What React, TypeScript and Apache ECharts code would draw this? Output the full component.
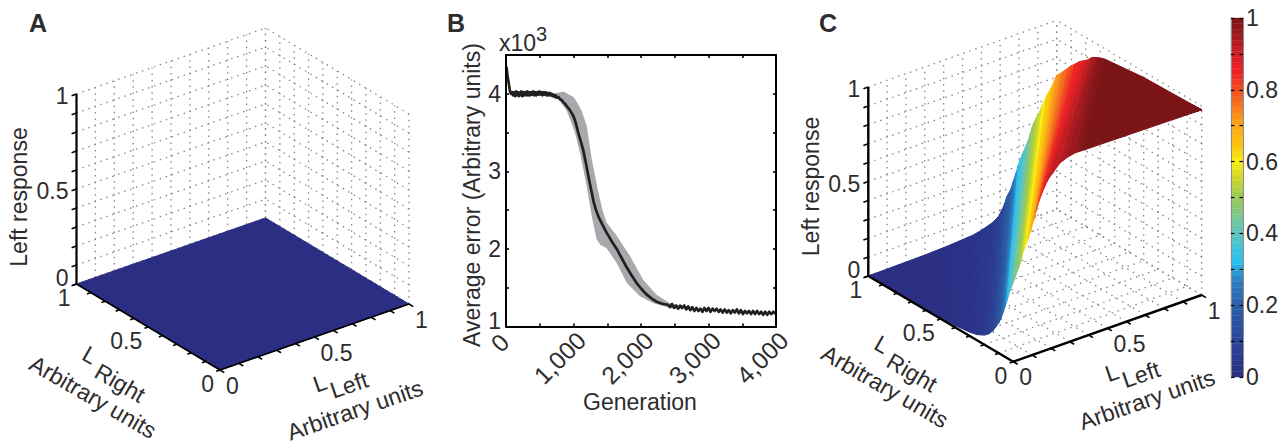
import React, { useEffect, useRef } from "react";
import * as echarts from "echarts";

// ---------- Panel B data ----------
const errorMean = [
  [0,4.35],[10,4.33],[20,4.25],[35,4.17],[50,4.08],[60,4.03],[75,4.0],
  [90,4.02],[105,3.98],[120,4.02],[135,3.97],[150,4.03],[165,3.98],[180,4.02],[195,3.97],[210,4.01],[225,4.03],[240,3.97],[255,4.02],[270,3.98],[285,4.02],[300,3.98],[315,4.03],[330,3.98],[345,4.02],[360,3.98],[375,4.02],[390,3.99],[405,4.03],[420,3.98],[435,4.02],[450,3.98],[465,4.02],[480,3.99],[495,4.03],[510,3.99],[525,4.02],[540,3.98],[555,4.02],[570,3.99],[585,4.02],[600,3.98],[615,4.01],[630,3.98],[645,4.01],[660,3.98],[675,4.0],[690,3.97],[705,3.99],[720,3.96],[735,3.98],[750,3.95],[775,3.96],[800,3.93],[825,3.92],[850,3.89],[875,3.87],[900,3.84],[930,3.81],[960,3.77],[1000,3.71],[1035,3.62],[1070,3.5],[1110,3.38],[1145,3.27],[1185,3.1],[1220,2.94],[1260,2.77],[1295,2.62],[1330,2.51],[1368,2.42],[1430,2.31],[1490,2.21],[1565,2.1],[1640,2.0],[1715,1.88],[1790,1.76],[1860,1.66],[1935,1.56],[2010,1.48],[2085,1.41],[2160,1.36],[2230,1.32],[2330,1.29],
  [2400,1.28],[2430,1.25],[2460,1.29],[2490,1.24],[2520,1.27],[2550,1.23],[2580,1.27],[2610,1.24],[2640,1.27],[2670,1.22],[2700,1.26],[2730,1.21],[2760,1.25],[2790,1.2],[2820,1.24],[2850,1.2],[2880,1.23],[2910,1.19],[2940,1.24],[2970,1.2],[3000,1.24],[3030,1.19],[3060,1.23],[3090,1.2],[3120,1.23],[3150,1.19],[3180,1.22],[3210,1.18],[3240,1.22],[3270,1.18],[3300,1.21],[3330,1.17],[3360,1.21],[3390,1.18],[3420,1.22],[3450,1.17],[3480,1.21],[3510,1.16],[3540,1.2],[3570,1.17],[3600,1.2],[3630,1.16],[3660,1.2],[3690,1.16],[3720,1.2],[3750,1.16],[3780,1.19],[3810,1.15],[3840,1.19],[3870,1.15],[3900,1.19],[3930,1.16],[3960,1.19],[4000,1.16],
];
const errorUpper = [
  [700,4.0],[850,4.03],[1000,3.96],[1060,3.88],[1120,3.78],[1195,3.59],[1270,3.16],[1368,2.73],[1430,2.5],[1490,2.34],[1640,2.17],[1837,1.91],[2035,1.6],[2230,1.41],[2430,1.3],[2630,1.26],
];
const errorLower = [
  [700,3.98],[750,3.96],[900,3.78],[1022,3.5],[1096,3.24],[1195,2.81],[1270,2.42],[1343,2.12],[1400,2.05],[1490,2.01],[1640,1.82],[1790,1.56],[1985,1.39],[2183,1.3],[2430,1.24],[2630,1.22],
];
const generationTicks = [[1000, "1,000"], [2000, "2,000"], [3000, "3,000"], [4000, "4,000"]] as [number, string][];

// ---------- Panels A and C data ----------
const minorTicks = [0, 0.1, 0.2, 0.3, 0.4, 0.5, 0.6, 0.7, 0.8, 0.9, 1];
const tickLabels3d = [["0", 0], ["0.5", 0.5], ["1", 1]] as [string, number][];
// Panel A: flat response at the four corners of the (LLeft, LRight) square
const flatCorners = [[0, 0, 0], [1, 0, 0], [1, 1, 0], [0, 1, 0]];
// Panel C: colour bands of the response surface.
const bandColor =  [0,0.005,0.01,0.02,0.03,0.05,0.07,0.1,0.13,0.16,0.19,0.23,0.27,0.3,0.33,0.36,0.39,0.42,0.45,0.49,0.52,0.55,0.58,0.62,0.66,0.71,0.73,0.75,0.78,0.8,0.83,0.86,0.88,0.9,0.93,0.95,0.97,0.985,1,1,1];
// where each band line meets the front edges (negative: on LLeft=0 at LRight=-s; positive: on LRight=0 at LLeft=s)
const bandFront =  [-1,-0.5,-0.4,-0.3,-0.25,-0.2,-0.17,-0.14,-0.12,-0.1,-0.085,-0.07,-0.055,-0.045,-0.035,-0.025,-0.012,0,0.012,0.03,0.04,0.048,0.06,0.078,0.092,0.108,0.114,0.12,0.13,0.136,0.148,0.163,0.176,0.19,0.248,0.285,0.327,0.35,0.37,0.6,1];
const bandFrontZ = [0,0.005,0.01,0.02,0.03,0.05,0.07,0.1,0.13,0.16,0.19,0.23,0.27,0.3,0.33,0.36,0.39,0.42,0.45,0.49,0.52,0.55,0.58,0.62,0.66,0.71,0.73,0.75,0.78,0.8,0.83,0.86,0.885,0.905,0.964,0.98,0.989,0.989,0.988,0.985,0.98];
// where each band line meets the back edges (<=1: on LRight=1 at LLeft=t; >1: on LLeft=1 at LRight=2-t)
const bandBack =   [0,0.3,0.42,0.555,0.6,0.66,0.69,0.71,0.725,0.735,0.755,0.77,0.785,0.795,0.805,0.82,0.835,0.85,0.86,0.873,0.89,0.91,0.925,0.947,0.975,1,1.025,1.045,1.075,1.095,1.125,1.16,1.185,1.21,1.245,1.262,1.28,1.305,1.33,1.6,2];
const bandBackZ =  [0,0.005,0.01,0.02,0.03,0.05,0.07,0.1,0.13,0.16,0.19,0.23,0.27,0.3,0.33,0.36,0.39,0.42,0.45,0.49,0.52,0.55,0.58,0.62,0.66,0.71,0.73,0.75,0.78,0.8,0.825,0.855,0.87,0.885,0.915,0.922,0.93,0.938,0.945,0.97,0.98];
const colorStops: [number, string][] = [
  [0,"#2b2e83"],[0.1,"#2b4496"],[0.2,"#2b5fa8"],[0.27,"#2f80c2"],[0.32,"#29c0ef"],[0.4,"#5fc5c0"],[0.5,"#9ac95a"],[0.55,"#c8d62e"],[0.6,"#f7ec13"],[0.65,"#fdc010"],[0.7,"#fbaa19"],[0.8,"#f04e23"],[0.85,"#ed2224"],[0.9,"#d21f26"],[0.95,"#a01a20"],[1,"#7b1416"],
];
const colorbarLevels = 64;

const INK = "#2e2c2d";
const FONT = '23px "Liberation Sans", Arial, sans-serif';
const FONT_B = '24.5px "Liberation Sans", Arial, sans-serif';
const BOLD = 'bold 25px "Liberation Sans", Arial, sans-serif';

type V3 = number[];
type View = { o: number[]; ex: number[]; ey: number[]; ez: number[] };
const viewA: View = { o: [220, 370], ex: [189, -66], ey: [-143.5, -86], ez: [0, -190] };
const viewC: View = { o: [1013.3, 361.7], ex: [188.4, -66.7], ey: [-145, -85.7], ez: [0, -189] };
const proj = (v: View, p: V3) => [
  v.o[0] + v.ex[0] * p[0] + v.ey[0] * p[1] + v.ez[0] * p[2],
  v.o[1] + v.ex[1] * p[0] + v.ey[1] * p[1] + v.ez[1] * p[2],
];

function hex(c: string) {
  return [1, 3, 5].map((i) => parseInt(c.slice(i, i + 2), 16));
}
function colorAt(z: number) {
  for (let i = 1; i < colorStops.length; i++) {
    if (z <= colorStops[i][0]) {
      const [a, ca] = colorStops[i - 1];
      const [b, cb] = colorStops[i];
      const f = (z - a) / (b - a);
      const x = hex(ca), y = hex(cb);
      return `rgb(${x.map((q, k) => Math.round(q + (y[k] - q) * f)).join(",")})`;
    }
  }
  return colorStops[colorStops.length - 1][1];
}

function bandPoint(i: number, f: number): V3 {
  const s = bandFront[i], t = bandBack[i];
  const a = s < 0 ? [0, -s] : [s, 0];
  const b = t <= 1 ? [t, 1] : [1, 2 - t];
  return [a[0] + (b[0] - a[0]) * f, a[1] + (b[1] - a[1]) * f, bandFrontZ[i] + (bandBackZ[i] - bandFrontZ[i]) * f];
}

function surfaceCells(v: View) {
  // painter's order along the viewing direction
  const r = [v.ex[0], v.ey[0], v.ez[0]], u = [-v.ex[1], -v.ey[1], -v.ez[1]];
  const n = [r[1] * u[2] - r[2] * u[1], r[2] * u[0] - r[0] * u[2], r[0] * u[1] - r[1] * u[0]];
  const cells: { pts: V3[]; z: number; d: number }[] = [];
  const segs = 24;
  for (let i = 0; i + 1 < bandColor.length; i++) {
    for (let j = 0; j < segs; j++) {
      const pts = [bandPoint(i, j / segs), bandPoint(i, (j + 1) / segs), bandPoint(i + 1, (j + 1) / segs), bandPoint(i + 1, j / segs)];
      const c = [0, 1, 2].map((k) => pts.reduce((acc, p) => acc + p[k], 0) / 4);
      cells.push({ pts, z: (bandColor[i] + bandColor[i + 1]) / 2, d: c[0] * n[0] + c[1] * n[1] + c[2] * n[2] });
    }
  }
  cells.sort((a, b) => a.d - b.d);
  return cells;
}

function polySeries(items: { pts: number[][]; fill: string }[]) {
  return {
    type: "custom", coordinateSystem: "cartesian2d", xAxisIndex: 0, yAxisIndex: 0, silent: true, clip: false,
    data: items.map((_, i) => [i]),
    renderItem: (p: any, api: any) => {
      const it = items[p.dataIndex];
      return { type: "polygon", shape: { points: it.pts.map((q) => api.coord(q)) }, style: { fill: it.fill, stroke: it.fill, lineWidth: 1, lineJoin: "round" } };
    },
  };
}
function lineSeries(items: { a: number[]; b: number[]; w: number; dash?: number[]; color: string }[]) {
  return {
    type: "custom", coordinateSystem: "cartesian2d", xAxisIndex: 0, yAxisIndex: 0, silent: true, clip: false,
    data: items.map((_, i) => [i]),
    renderItem: (p: any, api: any) => {
      const it = items[p.dataIndex];
      const a = api.coord(it.a), b = api.coord(it.b);
      return { type: "line", shape: { x1: a[0], y1: a[1], x2: b[0], y2: b[1] }, style: { stroke: it.color, lineWidth: it.w, lineDash: it.dash, lineCap: "butt" } };
    },
  };
}

function wallLines(v: View) {
  const L: any[] = [];
  const g = (a: V3, b: V3) => L.push({ a: proj(v, a), b: proj(v, b), w: 1.3, dash: [1.5, 4.8], color: "#85878a" });
  for (const t of minorTicks) {
    g([t, 1, 0], [t, 1, 1]);
    g([0, 1, t], [1, 1, t]);
    g([1, t, 0], [1, t, 1]);
    g([1, 0, t], [1, 1, t]);
    g([t, 0, 0], [t, 1, 0]);
    g([0, t, 0], [1, t, 0]);
  }
  return L;
}
function axisLines(v: View, wz: number, wf: number) {
  const L: any[] = [];
  const g = (a: V3, b: V3, w: number) => L.push({ a: proj(v, a), b: proj(v, b), w, color: "#000" });
  g([0, 1, 0], [0, 1, 1], wz);
  g([0, 0, 0], [0, 1, 0], wf);
  g([0, 0, 0], [1, 0, 0], wf);
  for (const t of minorTicks) {
    g([0, 1, t], [-0.026, 1, t], 1.6);
    g([0, t, 0], [-0.02, t, 0], 1.6);
    g([t, 0, 0], [t, -0.03, 0], 1.6);
  }
  return L;
}

function panelTexts(v: View, dx: number, dy: number, letter: string, lx: number) {
  const T = (text: string, x: number, y: number, rotDeg = 0, align = "center", font = FONT) => ({
    type: "text", x, y, rotation: (rotDeg * Math.PI) / 180, silent: true,
    style: { text, font, fill: INK, align, verticalAlign: "middle" },
  });
  const out: any[] = [T(letter, lx, 23, 0, "center", BOLD)];
  for (const [s, t] of tickLabels3d) {
    const z = proj(v, [0, 1, t]);
    out.push(T(s, z[0] - 8, z[1] + (t === 0 ? -6 : 2), 0, "right"));
    const yp = proj(v, [0, t, 0]);
    out.push(T(s, yp[0] - 6, yp[1] + 14, 0, "right"));
    const xp = proj(v, [t, 0, 0]);
    out.push(T(s, xp[0] + 6, xp[1] + 15.5, 0, "left"));
  }
  out.push(T("Left response", 19 + dx, 197 + dy, 90));
  out.push(T("L", 90 + dx, 355 + dy, -30));
  out.push(T("Right", 120 + dx, 383 + dy, -30));
  out.push(T("Arbitrary units", 93 + dx, 397 + dy, -30));
  out.push(T("L", 320 + dx, 383 + dy, 19));
  out.push(T("Left", 349 + dx, 385 + dy, 19));
  out.push(T("Arbitrary units", 355 + dx, 410 + dy, 19));
  return out;
}

const bx = { left: 506, top: 55, width: 270, height: 271.5 };
const cb = { left: 1231, top: 18, width: 12, height: 359 };

function buildOption() {
  const cells = surfaceCells(viewC);
  const surfaceC = cells.map((c) => ({ pts: c.pts.map((p) => proj(viewC, p)), fill: colorAt(c.z) }));
  const surfaceA = [{ pts: flatCorners.map((p) => proj(viewA, p)), fill: colorAt(0) }];
  const bandPoly = [...errorUpper, ...[...errorLower].reverse()];
  const bAxisLine = () => ({ show: true, onZero: false, lineStyle: { color: "#000", width: 2 } });
  const bTick = () => ({ show: true, inside: true, length: 3, lineStyle: { color: "#000", width: 1.6 } });
  const cbTick = () => ({ show: true, inside: true, length: 3.5, lineStyle: { color: "#000", width: 1.2 } });
  const cbLine = () => ({ show: true, onZero: false, lineStyle: { color: "#8a8c8e", width: 1 } });
  return {
    animation: false,
    backgroundColor: "#fff",
    grid: [
      { left: 0, top: 0, width: 1284, height: 442 },
      { ...bx },
      { ...cb },
    ],
    xAxis: [
      { type: "value", gridIndex: 0, min: 0, max: 1284, show: false },
      { type: "value", gridIndex: 1, position: "bottom", z: 5, min: 0, max: 4000, interval: 500, splitLine: { show: false }, axisLine: bAxisLine(), axisTick: bTick(), axisLabel: { show: false } },
      { type: "value", gridIndex: 1, position: "top", z: 5, min: 0, max: 4000, interval: 500, splitLine: { show: false }, axisLine: bAxisLine(), axisTick: bTick(), axisLabel: { show: false } },
      { type: "value", gridIndex: 2, min: 0, max: 1, show: false },
    ],
    yAxis: [
      { type: "value", gridIndex: 0, min: 0, max: 442, inverse: true, show: false },
      {
        type: "value", gridIndex: 1, position: "left", z: 5, min: 1, max: 4.5, interval: 0.5, splitLine: { show: false }, axisLine: bAxisLine(), axisTick: bTick(),
        axisLabel: { margin: 5, color: INK, fontFamily: "Liberation Sans", fontSize: 23, hideOverlap: false, formatter: (v: number) => (Number.isInteger(v) && v > 1 ? String(v) : "") },
      },
      { type: "value", gridIndex: 1, position: "right", z: 5, min: 1, max: 4.5, interval: 0.5, splitLine: { show: false }, axisLine: bAxisLine(), axisTick: bTick(), axisLabel: { show: false } },
      {
        type: "value", gridIndex: 2, position: "right", z: 5, min: 0, max: 1, interval: 0.1, splitLine: { show: false },
        axisLine: cbLine(), axisTick: cbTick(),
        axisLabel: { margin: 3, color: INK, fontFamily: "Liberation Sans", fontSize: 23, hideOverlap: false, formatter: (v: number) => (Math.round(v * 10) % 2 === 0 ? String(+v.toFixed(1)) : "") },
      },
      { type: "value", gridIndex: 2, position: "left", z: 5, min: 0, max: 1, interval: 0.1, splitLine: { show: false }, axisLine: cbLine(), axisTick: cbTick(), axisLabel: { show: false } },
    ],
    series: [
      lineSeries(wallLines(viewA)),
      polySeries(surfaceA),
      lineSeries(axisLines(viewA, 2.2, 1.6)),
      lineSeries(wallLines(viewC)),
      polySeries(surfaceC),
      lineSeries(axisLines(viewC, 2.4, 2.4)),
      {
        type: "custom", coordinateSystem: "cartesian2d", xAxisIndex: 1, yAxisIndex: 1, silent: true, data: [[0]],
        renderItem: (_: any, api: any) => ({ type: "polygon", shape: { points: bandPoly.map((q) => api.coord(q)) }, style: { fill: "#a7a9ac" } }),
      },
      {
        type: "line", xAxisIndex: 1, yAxisIndex: 1, data: errorMean, showSymbol: false, silent: true,
        lineStyle: { color: "#231f20", width: 2.7, join: "round" }, z: 3,
      },
      {
        // rotated generation tick labels, placed from the axis scale
        type: "custom", coordinateSystem: "cartesian2d", xAxisIndex: 1, yAxisIndex: 1, silent: true, clip: false,
        data: generationTicks.map((g) => [g[0], 1]),
        renderItem: (p: any, api: any) => {
          const c = api.coord([generationTicks[p.dataIndex][0], 1]);
          return {
            type: "text", x: c[0] - 13.5, y: c[1] + 31.5, rotation: Math.PI / 4,
            style: { text: generationTicks[p.dataIndex][1], font: FONT_B, fill: INK, align: "center", verticalAlign: "middle" },
          };
        },
      },
      {
        type: "custom", coordinateSystem: "cartesian2d", xAxisIndex: 3, yAxisIndex: 3, silent: true,
        data: Array.from({ length: colorbarLevels }, (_, i) => [i]),
        renderItem: (p: any, api: any) => {
          const i = p.dataIndex;
          const a = api.coord([0, i / colorbarLevels]), b = api.coord([1, (i + 1) / colorbarLevels]);
          const fill = colorAt((i + 0.5) / colorbarLevels);
          return { type: "rect", shape: { x: a[0], y: b[1], width: b[0] - a[0], height: a[1] - b[1] }, style: { fill, stroke: fill, lineWidth: 0.4 } };
        },
      },
    ],
    graphic: {
      elements: [
        ...panelTexts(viewA, 0, 0, "A", 38),
        ...panelTexts(viewC, 792, -10.5, "C", 828),
        { type: "text", x: 456, y: 23, silent: true, style: { text: "B", font: BOLD, fill: INK, align: "center", verticalAlign: "middle" } },
        { type: "text", x: 472, y: 195, rotation: Math.PI / 2, silent: true, style: { text: "Average error (Arbitrary units)", font: FONT, fill: INK, align: "center", verticalAlign: "middle" } },
        { type: "text", x: 640, y: 402, silent: true, style: { text: "Generation", font: FONT, fill: INK, align: "center", verticalAlign: "middle" } },
        { type: "text", x: 499, y: 43, silent: true, style: { text: "x10", font: FONT, fill: INK, align: "left", verticalAlign: "middle" } },
        { type: "text", x: 536, y: 34, silent: true, style: { text: "3", font: '20px "Liberation Sans", Arial, sans-serif', fill: INK, align: "left", verticalAlign: "middle" } },
        { type: "text", x: 500, y: 343, rotation: Math.PI / 4, silent: true, style: { text: "0", font: FONT_B, fill: INK, align: "center", verticalAlign: "middle" } },
        { type: "text", x: 501, y: 321, silent: true, style: { text: "1", font: FONT, fill: INK, align: "right", verticalAlign: "middle" } },
      ],
    },
  };
}

export default function App() {
  const ref = useRef<HTMLDivElement>(null);
  useEffect(() => {
    const chart = echarts.init(ref.current!, undefined, { renderer: "svg" });
    chart.setOption(buildOption() as any);
    return () => chart.dispose();
  }, []);
  return <div ref={ref} style={{ position: "fixed", left: 0, top: 0, width: 1284, height: 442 }} />;
}
